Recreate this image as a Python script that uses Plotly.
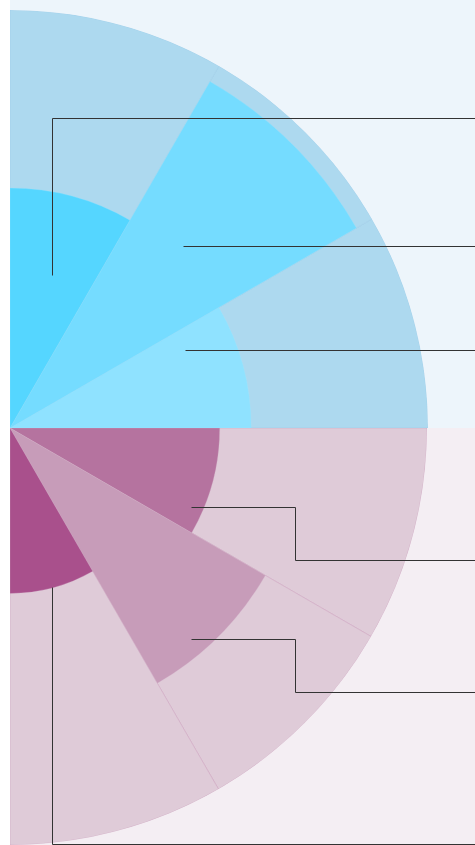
import plotly.graph_objects as go

# ---------------- data ----------------
top_categories = ["Top 1", "Top 2", "Top 3"]          # 0-30°, 30-60°, 60-90°
top_values = [57.7, 95.7, 57.4]
bottom_categories = ["Bottom 1", "Bottom 2", "Bottom 3"]  # 0 to -30°, -30 to -60°, -60 to -90°
bottom_values = [50.3, 70.7, 39.7]
radial_max = [100, 100, 100]

# ---------------- styles ----------------
W, H = 475, 845
top_colors = ["#8fe2ff", "#75dcff", "#55d6ff"]
bottom_colors = ["#b5739f", "#c79cb9", "#a9508c"]
top_band = "#add9ef"
bottom_band = "#dfcbd8"
top_bg = "#edf5fb"
bottom_bg = "#f4eef3"
SECTOR_W = 30

top_theta = [SECTOR_W / 2 + SECTOR_W * i for i in range(len(top_categories))]
bottom_theta = [-(SECTOR_W / 2 + SECTOR_W * i) for i in range(len(bottom_categories))]

fig = go.Figure()

fig.add_trace(go.Barpolar(
    r=radial_max, theta=top_theta, width=[SECTOR_W] * 3,
    marker=dict(color=top_band, line=dict(color="rgba(150,200,230,0.6)", width=0.6)),
    subplot="polar", hoverinfo="skip", showlegend=False))
fig.add_trace(go.Barpolar(
    r=top_values, theta=top_theta, width=[SECTOR_W] * 3, text=top_categories,
    marker=dict(color=top_colors, line=dict(color="rgba(160,230,255,0.5)", width=0.5)),
    subplot="polar", showlegend=False))

fig.add_trace(go.Barpolar(
    r=radial_max, theta=bottom_theta, width=[SECTOR_W] * 3,
    marker=dict(color=bottom_band, line=dict(color="rgba(205,160,190,0.8)", width=0.6)),
    subplot="polar2", hoverinfo="skip", showlegend=False))
fig.add_trace(go.Barpolar(
    r=bottom_values, theta=bottom_theta, width=[SECTOR_W] * 3, text=bottom_categories,
    marker=dict(color=bottom_colors, line=dict(color="rgba(220,190,210,0.5)", width=0.5)),
    subplot="polar2", showlegend=False))

def px(x):
    return x / W

def py(y):
    return 1 - y / H

polar_common = dict(
    bgcolor="rgba(0,0,0,0)",
    barmode="overlay",
    radialaxis=dict(visible=False, range=[0, 100], showgrid=False),
    angularaxis=dict(visible=False, showgrid=False, direction="counterclockwise", rotation=0),
)

fig.update_layout(
    width=W, height=H,
    margin=dict(l=0, r=0, t=0, b=0),
    paper_bgcolor="white",
    plot_bgcolor="white",
    polar=dict(domain=dict(x=[px(10), px(428)], y=[py(428), py(10)]), sector=[0, 90], **polar_common),
    polar2=dict(domain=dict(x=[px(10), px(427)], y=[py(845), py(428)]), sector=[270, 360], **polar_common),
)

shapes = [
    dict(type="rect", xref="paper", yref="paper", x0=px(10), x1=1, y0=py(428), y1=1,
         fillcolor=top_bg, line=dict(width=0), layer="below"),
    dict(type="rect", xref="paper", yref="paper", x0=px(10), x1=1, y0=0, y1=py(428),
         fillcolor=bottom_bg, line=dict(width=0), layer="below"),
]

# label leader lines (pixel polylines), text lies beyond the visible area
leader_lines = [
    [(52, 275), (52, 118), (475, 118)],
    [(183, 246), (475, 246)],
    [(185, 350), (475, 350)],
    [(191, 507), (295, 507), (295, 560), (475, 560)],
    [(191, 639), (295, 639), (295, 692), (475, 692)],
    [(52, 587), (52, 844), (475, 844)],
]
for pts in leader_lines:
    path = "M " + " L ".join(f"{px(x + 0.5)},{py(y + 0.5)}" for x, y in pts)
    shapes.append(dict(type="path", xref="paper", yref="paper", path=path,
                       line=dict(color="#333333", width=1), layer="above"))

fig.update_layout(shapes=shapes)

fig.write_html(
    "out.html",
    config={"displayModeBar": False},
    post_script="document.body.style.margin='0';document.body.style.padding='0';",
)
